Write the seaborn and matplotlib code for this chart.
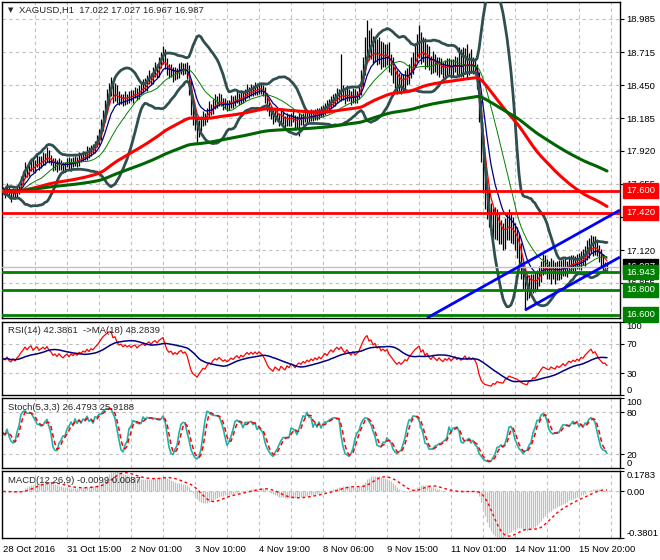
import numpy as np
import pandas as pd
import matplotlib
matplotlib.use("Agg")
import matplotlib.pyplot as plt
import matplotlib.transforms as mtrans
import seaborn as sns

# ---- XAGUSD H1 closes (bar 0 = 28 Oct 2016) ----
close = [
    17.60, 17.58, 17.62, 17.57, 17.55, 17.59, 17.56, 17.60, 17.63, 17.68,
    17.72, 17.78, 17.75, 17.80, 17.83, 17.78, 17.82, 17.85, 17.81, 17.84,
    17.87, 17.85, 17.90, 17.86, 17.84, 17.80, 17.82, 17.79, 17.83, 17.80,
    17.78, 17.81, 17.83, 17.80, 17.84, 17.82, 17.85, 17.83, 17.87, 17.86,
    17.89, 17.88, 17.92, 17.90, 17.94, 17.93, 17.97, 18.00, 18.05, 18.12,
    18.20, 18.27, 18.35, 18.41, 18.44, 18.38, 18.42, 18.36, 18.33, 18.35,
    18.32, 18.36, 18.34, 18.37, 18.35, 18.38, 18.40, 18.37, 18.41, 18.43,
    18.46, 18.44, 18.49, 18.52, 18.50, 18.55, 18.58, 18.56, 18.62, 18.66,
    18.70, 18.64, 18.58, 18.55, 18.57, 18.53, 18.56, 18.54, 18.58, 18.60,
    18.57, 18.59, 18.55, 18.45, 18.30, 18.20, 18.15, 18.08, 18.12, 18.16,
    18.20, 18.18, 18.23, 18.27, 18.25, 18.30, 18.33, 18.31, 18.35, 18.32,
    18.29, 18.31, 18.28, 18.30, 18.33, 18.31, 18.34, 18.36, 18.33, 18.37,
    18.35, 18.38, 18.41, 18.39, 18.42, 18.40, 18.43, 18.41, 18.44, 18.42,
    18.40, 18.36, 18.30, 18.25, 18.22, 18.19, 18.23, 18.20, 18.17, 18.21,
    18.18, 18.15, 18.19, 18.16, 18.20, 18.18, 18.14, 18.17, 18.19, 18.17,
    18.20, 18.18, 18.21, 18.19, 18.22, 18.20, 18.23, 18.21, 18.24, 18.22,
    18.25, 18.28, 18.26, 18.30, 18.33, 18.31, 18.35, 18.38, 18.36, 18.40,
    18.37, 18.35, 18.39, 18.36, 18.34, 18.38, 18.35, 18.37, 18.40, 18.48,
    18.58, 18.70, 18.78, 18.72, 18.76, 18.70, 18.74, 18.68, 18.72, 18.66,
    18.70, 18.67, 18.71, 18.64, 18.60, 18.55, 18.50, 18.46, 18.49, 18.45,
    18.48, 18.52, 18.50, 18.56, 18.60, 18.65, 18.70, 18.74, 18.78, 18.70,
    18.75, 18.66, 18.71, 18.64, 18.60, 18.66, 18.62, 18.58, 18.63, 18.59,
    18.56, 18.61, 18.58, 18.62, 18.57, 18.60, 18.64, 18.59, 18.62, 18.58,
    18.61, 18.65, 18.59, 18.63, 18.60, 18.62, 18.58, 18.50, 18.25, 17.95,
    17.70, 17.55, 17.48, 17.40, 17.33, 17.38, 17.30, 17.35, 17.28, 17.25,
    17.22, 17.28, 17.30, 17.34, 17.29, 17.26, 17.22, 17.18, 17.10, 17.00,
    16.90, 16.85, 16.80, 16.86, 16.83, 16.88, 16.85, 16.89, 16.93, 16.98,
    17.02, 17.00, 16.97, 16.95, 16.99, 16.96, 16.94, 16.98, 16.95, 16.97,
    17.00, 16.96, 16.99, 17.02, 17.00, 17.03, 17.01, 17.04, 17.02, 17.06,
    17.05, 17.09, 17.12, 17.15, 17.18, 17.14, 17.16, 17.12, 17.08, 17.05,
    17.02, 17.022, 16.987,
]
# wick above / below each bar body, in cents
wick_up = [
    3, 2, 4, 2, 3, 3, 2, 4, 3, 4,   4, 5, 3, 4, 3, 4, 3, 5, 3, 4,
    4, 3, 5, 3, 3, 2, 4, 3, 3, 2,   3, 2, 3, 4, 2, 3, 3, 2, 4, 3,
    3, 2, 4, 3, 3, 4, 3, 5, 5, 6,   5, 6, 7, 6, 8, 4, 5, 3, 4, 3,
    3, 4, 2, 3, 4, 3, 4, 3, 4, 5,   4, 5, 4, 5, 3, 5, 6, 4, 6, 6,
    7, 4, 3, 4, 5, 3, 4, 3, 5, 4,   3, 4, 5, 6, 4, 3, 4, 3, 5, 4,
    4, 3, 4, 5, 3, 4, 5, 3, 4, 3,   3, 4, 2, 3, 4, 3, 3, 4, 3, 4,
    3, 4, 5, 3, 4, 3, 5, 4, 4, 3,   3, 4, 3, 4, 3, 3, 4, 3, 3, 4,
    3, 2, 4, 3, 3, 4, 3, 3, 4, 3,   3, 4, 3, 3, 4, 3, 3, 4, 3, 4,
    4, 3, 5, 4, 3, 5, 4, 5, 4, 30,  5, 4, 6, 3, 4, 5, 4, 3, 6, 9,
    10, 14, 20, 12, 15, 9, 11, 8, 12, 9,   10, 8, 7, 9, 6, 8, 5, 7, 6, 5,
    6, 5, 7, 6, 8, 7, 9, 12, 16, 10,   9, 8, 7, 6, 5, 7, 4, 6, 5, 4,
    5, 4, 6, 5, 4, 6, 5, 4, 14, 12,   15, 10, 13, 8, 11, 6, 5, 4, 6, 8,
    10, 8, 9, 12, 10, 8, 9, 10, 7, 8,   9, 10, 12, 11, 9, 10, 8, 9, 7, 8,
    6, 7, 8, 6, 7, 5, 6, 7, 6, 5,   7, 6, 5, 6, 7, 5, 6, 5, 6, 7,
    5, 6, 4, 5, 6, 5, 4, 5, 6, 5,   7, 6, 8, 7, 6, 5, 7, 5, 4, 5,
    4, 0.5, 0.5,
]
wick_dn = [
    3, 4, 2, 3, 4, 2, 3, 2, 3, 2,   3, 2, 4, 3, 4, 3, 4, 3, 4, 3,
    3, 4, 2, 4, 3, 4, 3, 4, 2, 3,   4, 3, 2, 3, 4, 3, 2, 4, 3, 3,
    2, 3, 3, 4, 2, 3, 3, 2, 3, 4,   4, 5, 4, 6, 5, 7, 6, 5, 4, 3,
    4, 3, 4, 3, 3, 4, 3, 4, 3, 3,   4, 3, 4, 3, 4, 4, 3, 5, 4, 3,
    4, 6, 5, 4, 3, 5, 4, 4, 3, 4,   4, 3, 5, 8, 9, 7, 6, 9, 5, 4,
    4, 5, 3, 4, 4, 3, 4, 4, 3, 4,   4, 3, 4, 3, 3, 4, 3, 3, 4, 3,
    4, 3, 3, 4, 3, 4, 3, 4, 3, 4,   4, 5, 6, 5, 4, 5, 4, 4, 5, 4,
    4, 5, 3, 4, 4, 3, 5, 4, 13, 4,   4, 3, 4, 4, 3, 4, 3, 4, 3, 3,
    3, 4, 3, 3, 4, 3, 3, 4, 3, 4,   4, 5, 3, 4, 5, 3, 4, 4, 3, 3,
    4, 5, 6, 7, 6, 8, 6, 7, 6, 8,   6, 7, 6, 8, 7, 8, 7, 8, 6, 7,
    5, 6, 5, 4, 5, 6, 5, 6, 7, 8,   6, 8, 6, 7, 6, 5, 6, 5, 6, 5,
    5, 6, 5, 4, 6, 5, 4, 6, 7, 6,   6, 7, 8, 6, 5, 6, 5, 8, 10, 12,
    12, 10, 11, 9, 10, 12, 9, 10, 11, 8,   10, 9, 8, 10, 11, 9, 10, 12, 10, 11,
    9, 21, 8, 7, 8, 6, 7, 5, 6, 7,   6, 7, 8, 6, 10, 7, 9, 6, 7, 6,
    6, 5, 6, 5, 6, 5, 6, 4, 5, 6,   5, 6, 5, 6, 5, 7, 6, 5, 6, 7,
    6, 5, 2,
]
assert len(close) == len(wick_up) == len(wick_dn)

time_ticks = [0, 32, 64, 96, 128, 160, 192, 224, 256, 288]
time_labels = ["28 Oct 2016", "31 Oct 15:00", "2 Nov 01:00", "3 Nov 10:00",
               "4 Nov 19:00", "8 Nov 06:00", "9 Nov 15:00", "11 Nov 01:00",
               "14 Nov 11:00", "15 Nov 20:00"]
price_ticks = [18.985, 18.715, 18.450, 18.185, 17.920, 17.655, 17.390, 17.120, 16.855]
resist_levels = [17.600, 17.420]
support_levels = [16.943, 16.800, 16.600]
last_price = 16.987
# trend channel anchors (bar, price)
channel_upper = [(212, 16.572), (308.5, 17.443)]
channel_lower = [(261, 16.636), (308.5, 17.064)]

# ---- indicators ----
c = pd.Series(close)
op = c.shift(1).fillna(c.iloc[0])
hi = np.maximum(op, c) + np.array(wick_up) / 100
lo = np.minimum(op, c) - np.array(wick_dn) / 100
bars = np.arange(len(c))

ema5 = c.ewm(span=5, adjust=False).mean()
ema10 = c.ewm(span=10, adjust=False).mean()
ma20 = c.rolling(20, min_periods=1).mean()
sd20 = c.rolling(20, min_periods=1).std(ddof=0)
bb_up, bb_dn = ma20 + 2 * sd20, ma20 - 2 * sd20
ema100 = c.ewm(span=100, adjust=False).mean()
ema200 = c.ewm(span=200, adjust=False).mean()

# RSI (Wilder), seeded with an even start so the first bars stay neutral
d = c.diff().fillna(0)
gain, loss = d.clip(lower=0), -d.clip(upper=0)
seed = d.abs().iloc[1:15].mean() / 2
gain.iloc[0] = seed
loss.iloc[0] = seed
ag = gain.ewm(alpha=1 / 14, adjust=False).mean()
al = loss.ewm(alpha=1 / 14, adjust=False).mean()
rsi = 100 - 100 / (1 + ag / al)
rsi_ma = rsi.rolling(18, min_periods=1).mean()

ll = pd.Series(lo).rolling(5, min_periods=1).min()
hh = pd.Series(hi).rolling(5, min_periods=1).max()
stk = (c - ll).rolling(3, min_periods=1).sum() / (hh - ll).rolling(3, min_periods=1).sum() * 100
std_ = stk.rolling(3, min_periods=1).mean()

macd = c.ewm(span=12, adjust=False).mean() - c.ewm(span=26, adjust=False).mean()
signal = macd.rolling(9, min_periods=1).mean()

# ---- figure ----
sns.set_style("white")
plt.rcParams['font.family'] = ['Liberation Sans', 'DejaVu Sans']
FS = 6.8
GRID = dict(color='#C0C0C0', lw=0.8, ls=(0, (3, 3)), zorder=0)

W, H = 660, 560
fig = plt.figure(figsize=(W / 100, H / 100), dpi=100)
fig.patch.set_facecolor('white')


def panel(top, bottom):
    return fig.add_axes([2 / W, (H - bottom) / H, 618 / W, (bottom - top) / H])


ax = panel(2, 318)
ax_rsi = panel(322, 395)
ax_sto = panel(398, 468)
ax_macd = panel(471, 538)

for a in (ax, ax_rsi, ax_sto, ax_macd):
    a.set_xlim(-0.5, 308.5)
    for s in a.spines.values():
        s.set_color('black')
        s.set_linewidth(1)
    a.yaxis.tick_right()
    a.tick_params(axis='y', length=3, width=0.8, pad=1.5, labelsize=FS, colors='black')
    a.tick_params(axis='x', length=0, labelbottom=False)
    for g in range(16, 309, 16):
        a.axvline(g, **GRID)

# main price panel
ax.set_ylim(16.572, 19.122)
ax.set_yticks(price_ticks, [f"{p:.3f}" for p in price_ticks])
for p in price_ticks:
    ax.axhline(p, **GRID)
ax.vlines(bars, lo, hi, color='black', lw=0.9, zorder=2)

for series, col, lw in [(ema5, '#FF0000', 0.9), (ema10, '#000080', 0.9), (ma20, '#008000', 0.7),
                        (bb_up, '#2F4F4F', 2.0), (bb_dn, '#2F4F4F', 2.0),
                        (ema100, '#FF0000', 2.2), (ema200, '#006400', 2.2)]:
    sns.lineplot(x=bars, y=series.values, ax=ax, color=col, linewidth=lw, legend=False, zorder=3)

ax.axhline(last_price, color='#C0C0C0', lw=1, zorder=3.5)
for lv in resist_levels:
    ax.axhline(lv, color='#FF0000', lw=2, zorder=4)
for lv in support_levels:
    ax.axhline(lv, color='#008000', lw=2, zorder=4)
for (x0, y0), (x1, y1) in (channel_upper, channel_lower):
    ax.plot([x0, x1], [y0, y1], color='#0000FF', lw=2, zorder=4.5, solid_capstyle='butt')

tr = mtrans.blended_transform_factory(ax.transAxes, ax.transData)


def price_box(y, txt, col, z):
    ax.text((626 - 2) / 618, y, txt, transform=tr, ha='left', va='center', color='white',
            fontsize=FS, clip_on=False, zorder=z,
            bbox=dict(boxstyle='square,pad=0.28', fc=col, ec=col))


price_box(last_price, f"{last_price:.3f}", 'black', 6)
for lv in resist_levels:
    price_box(lv, f"{lv:.3f}", '#FF0000', 7)
for lv in support_levels:
    price_box(lv, f"{lv:.3f}", '#008000', 7)

ax.text(6 / 618, 0.974, "\u25BC", transform=ax.transAxes, fontsize=5, va='center', ha='left',
        family=['DejaVu Sans'])
ax.text(17 / 618, 0.974, "XAGUSD,H1  17.022 17.027 16.967 16.987", transform=ax.transAxes,
        fontsize=FS, va='center', ha='left')

# RSI
ax_rsi.set_ylim(0, 100)
ax_rsi.set_yticks([100, 70, 30, 0], ["100", "70", "30", "0"])
for lv in (70, 30):
    ax_rsi.axhline(lv, **GRID)
sns.lineplot(x=bars, y=rsi.values, ax=ax_rsi, color='#FF0000', linewidth=0.9, legend=False)
sns.lineplot(x=bars, y=rsi_ma.values, ax=ax_rsi, color='#000080', linewidth=1.1, legend=False)
ax_rsi.text(6 / 618, 0.89, "RSI(14) 42.3861  ->MA(18) 48.2839", transform=ax_rsi.transAxes,
            fontsize=FS, va='center', ha='left')

# Stochastic
ax_sto.set_ylim(0, 100)
ax_sto.set_yticks([100, 80, 20, 0], ["100", "80", "20", "0"])
for lv in (80, 20):
    ax_sto.axhline(lv, **GRID)
sns.lineplot(x=bars, y=stk.values, ax=ax_sto, color='#20B2AA', linewidth=1.2, legend=False)
sns.lineplot(x=bars, y=std_.values, ax=ax_sto, color='#FF0000', linewidth=1.1, legend=False,
             linestyle=(0, (3, 2)))
ax_sto.text(6 / 618, 0.87, "Stoch(5,3,3) 26.4793 25.9188", transform=ax_sto.transAxes,
            fontsize=FS, va='center', ha='left')

# MACD
mlo = min(macd.min(), signal.min())
mhi = max(macd.max(), signal.max())
ax_macd.set_ylim(mlo, mhi)
ax_macd.set_yticks([mhi, 0, mlo], ["0.1783", "0.00", "-0.3801"])
ax_macd.axhline(0, **GRID)
ax_macd.vlines(bars, 0, macd.values, color='#C0C0C0', lw=0.9, zorder=2)
sns.lineplot(x=bars, y=signal.values, ax=ax_macd, color='#FF0000', linewidth=1.0, legend=False,
             linestyle=(0, (2, 2)), zorder=3)
ax_macd.text(6 / 618, 0.86, "MACD(12,26,9) -0.0099 0.0087", transform=ax_macd.transAxes,
             fontsize=FS, va='center', ha='left')

for a in (ax_rsi, ax_sto, ax_macd):
    labs = a.get_yticklabels()
    labs[0].set_va('top')
    labs[-1].set_va('bottom')

ax_macd.set_xticks(time_ticks, time_labels)
ax_macd.tick_params(axis='x', length=3, width=0.8, pad=2, labelsize=FS, labelbottom=True,
                    direction='out', colors='black')
for lbl in ax_macd.get_xticklabels():
    lbl.set_ha('left')

for a in (ax, ax_rsi, ax_sto, ax_macd):
    a.set_xlabel('')
    a.set_ylabel('')

fig.savefig('out.png', dpi=100, facecolor='white')
